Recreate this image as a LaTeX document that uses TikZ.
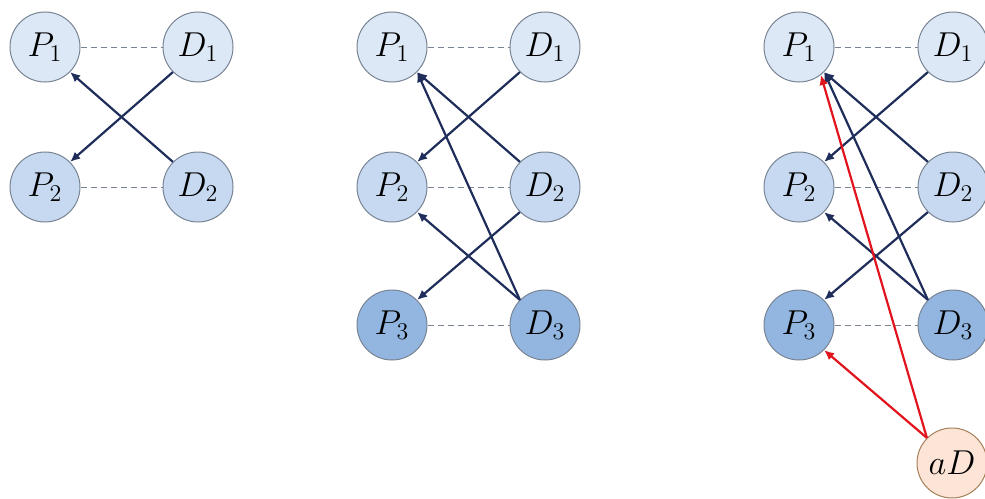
\documentclass[tikz,border=0pt]{standalone}
\usepackage{amsmath,amssymb}
\usetikzlibrary{arrows.meta,positioning}

\definecolor{rowA}{RGB}{220,232,246}
\definecolor{rowB}{RGB}{198,217,240}
\definecolor{rowC}{RGB}{146,182,224}
\definecolor{peach}{RGB}{252,228,214}
\definecolor{navy}{RGB}{31,45,90}
\definecolor{redarr}{RGB}{225,20,30}
\definecolor{rim}{RGB}{120,132,148}

\begin{document}
\begin{tikzpicture}[
    x=0.5pt, y=-0.5pt,
    >={Latex[length=5pt,width=4.5pt]},
    agent/.style={circle,draw=rim,line width=0.5pt,minimum size=35pt,inner sep=0pt,font=\LARGE},
    lvlA/.style={agent,fill=rowA},
    lvlB/.style={agent,fill=rowB},
    lvlC/.style={agent,fill=rowC},
    attack/.style={agent,fill=peach,draw=brown!60!gray},
    pair/.style={densely dashed,draw=rim,line width=0.4pt},
    flow/.style={->,draw=navy,line width=1.1pt},
    hijack/.style={->,draw=redarr,line width=1.1pt}
]
\useasboundingbox (0,0) rectangle (985,498);

% first panel
\node[lvlA] (aP1) at (45,47) {$P_1$};
\node[lvlA] (aD1) at (198,47) {$D_1$};
\node[lvlB] (aP2) at (45,187) {$P_2$};
\node[lvlB] (aD2) at (198,187) {$D_2$};

\draw[pair] (aP1) -- (aD1);
\draw[pair] (aP2) -- (aD2);
\draw[flow] (aD1.225) -- (aP2.45);
\draw[flow] (aD2.135) -- (aP1.-45);

% second panel
\node[lvlA] (bP1) at (392,47) {$P_1$};
\node[lvlA] (bD1) at (545,47) {$D_1$};
\node[lvlB] (bP2) at (392,187) {$P_2$};
\node[lvlB] (bD2) at (545,187) {$D_2$};
\node[lvlC] (bP3) at (392,325) {$P_3$};
\node[lvlC] (bD3) at (545,325) {$D_3$};

\draw[pair] (bP1) -- (bD1);
\draw[pair] (bP2) -- (bD2);
\draw[pair] (bP3) -- (bD3);
\draw[flow] (bD1.225) -- (bP2.45);
\draw[flow] (bD2.135) -- (bP1.-45);
\draw[flow] (bD3.135) -- (bP1.-45);
\draw[flow] (bD3.135) -- (bP2.-45);
\draw[flow] (bD2.225) -- (bP3.45);

% third panel
\node[lvlA] (cP1) at (799,47) {$P_1$};
\node[lvlA] (cD1) at (953,47) {$D_1$};
\node[lvlB] (cP2) at (799,187) {$P_2$};
\node[lvlB] (cD2) at (953,187) {$D_2$};
\node[lvlC] (cP3) at (799,325) {$P_3$};
\node[lvlC] (cD3) at (953,325) {$D_3$};
\node[attack] (cAD) at (952,463) {$aD$};

\draw[pair] (cP1) -- (cD1);
\draw[pair] (cP2) -- (cD2);
\draw[pair] (cP3) -- (cD3);
\draw[flow] (cD1.225) -- (cP2.45);
\draw[flow] (cD2.135) -- (cP1.-45);
\draw[flow] (cD3.135) -- (cP1.-45);
\draw[flow] (cD3.135) -- (cP2.-45);
\draw[flow] (cD2.225) -- (cP3.45);
\draw[hijack] (cAD.135) -- (cP1.-52);
\draw[hijack] (cAD.135) -- (cP3.-45);
\end{tikzpicture}
\end{document}
